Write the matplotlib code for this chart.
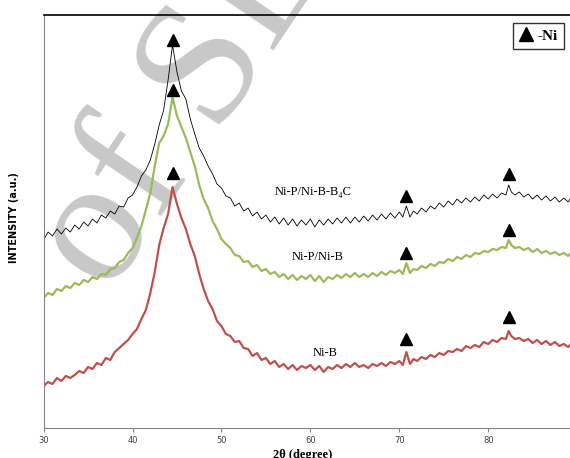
import numpy as np
import matplotlib.pyplot as plt
from matplotlib.lines import Line2D

# 2theta positions (deg)
two_theta = [30, 30.5, 31, 31.5, 32, 32.5, 33, 33.5, 34, 34.5, 35, 35.5, 36, 36.5, 37, 37.5,
             38, 38.5, 39, 39.5, 40, 40.5, 41, 41.5, 42, 42.5, 43, 43.5, 44, 44.5, 45, 45.5,
             46, 46.5, 47, 47.5, 48, 48.5, 49, 49.5, 50, 50.5, 51, 51.5, 52, 52.5, 53, 53.5,
             54, 54.5, 55, 55.5, 56, 56.5, 57, 57.5, 58, 58.5, 59, 59.5, 60, 60.5, 61, 61.5,
             62, 62.5, 63, 63.5, 64, 64.5, 65, 65.5, 66, 66.5, 67, 67.5, 68, 68.5, 69, 69.5,
             70, 70.4, 70.8, 71.2, 71.6, 72, 72.5, 73, 73.5, 74, 74.5, 75, 75.5, 76, 76.5, 77,
             77.5, 78, 78.5, 79, 79.5, 80, 80.5, 81, 81.5, 82, 82.3, 82.6, 83, 83.5, 84, 84.5,
             85, 85.5, 86, 86.5, 87, 87.5, 88, 88.5, 89, 89.2]

# intensities (a.u., curves already offset)
ni_b = [42, 46, 44, 50, 47, 52, 50, 53, 57, 55, 61, 59, 65, 63, 70, 68,
        76, 80, 84, 88, 94, 99, 109, 118, 135, 156, 183, 200, 214, 241, 224, 210,
        199, 184, 172, 154, 139, 127, 119, 107, 102, 94, 92, 86, 87, 80, 79, 72,
        75, 68, 70, 64, 67, 61, 64, 59, 63, 58, 62, 60, 63, 58, 62, 56,
        61, 59, 63, 60, 64, 61, 65, 61, 63, 60, 64, 62, 65, 62, 66, 64,
        67, 63, 76, 64, 69, 67, 71, 69, 73, 71, 75, 73, 77, 76, 79, 77,
        82, 80, 83, 81, 86, 84, 88, 86, 90, 89, 97, 92, 89, 90, 87, 89,
        85, 88, 84, 87, 83, 86, 82, 84, 81, 83]

ni_p_ni_b = [130, 135, 133, 139, 137, 142, 140, 145, 143, 148, 146, 151, 149, 154, 153, 159,
             160, 166, 168, 175, 180, 190, 202, 218, 235, 262, 285, 292, 304, 331, 312, 301,
             290, 276, 262, 243, 229, 220, 207, 199, 189, 184, 180, 173, 172, 166, 167, 161,
             163, 157, 159, 154, 156, 151, 154, 149, 153, 148, 152, 149, 153, 147, 152, 146,
             151, 149, 153, 150, 154, 151, 155, 151, 154, 151, 155, 152, 156, 153, 157, 155,
             158, 154, 165, 155, 159, 158, 162, 160, 164, 162, 166, 165, 169, 167, 171, 169,
             173, 171, 175, 174, 177, 176, 179, 178, 181, 180, 188, 183, 180, 181, 178, 180,
             176, 179, 175, 177, 174, 176, 173, 175, 172, 174]

ni_p_ni_b_b4c = [188, 196, 192, 199, 194, 200, 196, 203, 199, 206, 202, 209, 205, 213, 210, 217,
                 214, 222, 221, 230, 233, 241, 252, 258, 268, 284, 303, 318, 348, 383, 356, 337,
                 329, 309, 294, 280, 272, 262, 254, 244, 240, 232, 230, 222, 225, 217, 220, 212,
                 216, 209, 213, 206, 211, 204, 210, 203, 209, 202, 208, 203, 209, 201, 208, 203,
                 209, 204, 210, 205, 211, 205, 211, 206, 212, 207, 213, 208, 214, 209, 215, 210,
                 216, 211, 222, 211, 217, 214, 220, 216, 222, 219, 225, 221, 227, 223, 229, 225,
                 230, 226, 231, 227, 233, 229, 234, 230, 235, 233, 243, 236, 233, 236, 231, 234,
                 229, 233, 228, 232, 227, 231, 226, 230, 226, 229]

# Ni peak markers
ni_x = [44.5, 70.8, 82.3]
ni_b_mark = [255, 89, 111]
ni_p_ni_b_mark = [338, 175, 198]
ni_p_ni_b_b4c_mark = [388, 232, 254]

fig = plt.figure(figsize=(5.7, 4.58), dpi=100)
ax = fig.add_axes([0.0765, 0.0655, 0.9235, 0.9017])

serif = ['Liberation Serif', 'DejaVu Serif']

# watermark
ax.text(0.19, 0.355, 'of SLE', transform=fig.transFigure, rotation=56,
        rotation_mode='anchor', ha='left', va='baseline', fontsize=128,
        family=serif, color='#c8c8c8', zorder=0.5, clip_on=False)

ax.plot(two_theta, ni_b, color='#c0504d', lw=1.6, zorder=2)
ax.plot(two_theta, ni_p_ni_b, color='#9bbb59', lw=1.6, zorder=2)
ax.plot(two_theta, ni_p_ni_b_b4c, color='black', lw=0.6, zorder=2)

for m in [ni_b_mark, ni_p_ni_b_mark, ni_p_ni_b_b4c_mark]:
    ax.plot(ni_x, m, ls='none', marker='^', ms=8.5, color='black', zorder=3)

ax.text(60.3, 236, 'Ni-P/Ni-B-B₄C', ha='center', va='center', fontsize=9, family=serif)
ax.text(60.8, 171, 'Ni-P/Ni-B', ha='center', va='center', fontsize=9, family=serif)
ax.text(61.7, 75, 'Ni-B', ha='center', va='center', fontsize=9, family=serif)

h = Line2D([], [], ls='none', marker='^', ms=10, color='black')
leg = ax.legend([h], ['-Ni'], loc='upper right', bbox_to_anchor=(0.989, 0.981),
                borderaxespad=0, handlelength=0.9, handletextpad=0.35, borderpad=0.4,
                fancybox=False, prop={'family': serif, 'weight': 'bold', 'size': 11})
leg.get_frame().set_edgecolor('black')
leg.get_frame().set_linewidth(1.0)

ax.set_xlim(30, 89.2)
ax.set_ylim(0, 413)
ax.set_xticks([30, 40, 50, 60, 70, 80])
ax.set_yticks([])
ax.tick_params(axis='x', length=3, color='#868686', labelsize=6, labelcolor='#404040', pad=3)

for s in ['left', 'bottom']:
    ax.spines[s].set_color('#868686')
ax.spines['top'].set_color('black')
ax.spines['top'].set_linewidth(1.2)
ax.spines['right'].set_visible(False)

ax.set_xlabel('2θ (degree)', fontsize=9, fontweight='bold', family=serif)
ax.xaxis.set_label_coords(0.493, -0.052)
ax.set_ylabel('INTENSITY (a.u.)', fontsize=7, fontweight='bold')
ax.yaxis.set_label_coords(-0.047, 0.51)

fig.savefig('out.png', dpi=100)
